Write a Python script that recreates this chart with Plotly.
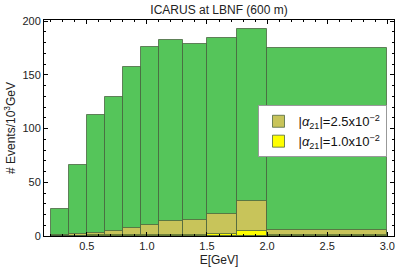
import plotly.graph_objects as go

# Data
bin_edges = [0.2, 0.35, 0.5, 0.65, 0.8, 0.95, 1.1, 1.3, 1.5, 1.75, 2.0, 3.0]
events_total = [25, 66, 113, 129, 157, 176, 182, 178.5, 184, 192.5, 174.5]
events_a25 = [0.5, 2, 3, 5, 7, 10, 14, 15, 20.5, 33, 6]
events_a10 = [0.3, 0.4, 0.5, 0.6, 0.7, 0.8, 1.2, 1.3, 2.2, 4.5, 1.0]

series_names = ["|<i>α</i><sub>21</sub>|=2.5x10<sup>−2</sup>",
                "|<i>α</i><sub>21</sub>|=1.0x10<sup>−2</sup>"]
x_tickvals = [0.5, 1.0, 1.5, 2.0, 2.5, 3.0]
x_ticktext = ["0.5", "1.0", "1.5", "2.0", "2.5", "3.0"]
y_tickvals = [0, 50, 100, 150, 200]

GREEN, OLIVE, YELLOW = "#55C55A", "#C8C45A", "#FFFF00"

centers = [(a + b) / 2 for a, b in zip(bin_edges[:-1], bin_edges[1:])]
widths = [b - a for a, b in zip(bin_edges[:-1], bin_edges[1:])]

edge = dict(color="rgba(70,95,60,0.75)", width=1)

fig = go.Figure()
fig.add_trace(go.Bar(x=centers, y=events_total, width=widths, marker=dict(color=GREEN, line=edge),
                     showlegend=False, name="total"))
fig.add_trace(go.Bar(x=centers, y=events_a25, width=widths, marker=dict(color=OLIVE, line=edge),
                     name=series_names[0]))
fig.add_trace(go.Bar(x=centers, y=events_a10, width=widths, marker=dict(color=YELLOW, line=edge),
                     name=series_names[1]))

axis_common = dict(showline=True, linecolor="black", linewidth=1, mirror="allticks",
                   ticks="inside", ticklen=4, tickcolor="black", showgrid=False, zeroline=False,
                   tickfont=dict(size=11, color="#222"))

fig.update_layout(
    width=415, height=275,
    margin=dict(l=44, r=21, t=20, b=39, autoexpand=False),
    barmode="overlay", bargap=0,
    paper_bgcolor="white", plot_bgcolor="white",
    font=dict(family="Liberation Sans, Arial, sans-serif", size=11, color="#222"),
    title=dict(text="ICARUS at LBNF (600 m)", x=(44 + 394) / 2 / 415, xanchor="center",
               y=1 - 10 / 275, yanchor="middle", font=dict(size=12)),
    xaxis=dict(range=[0.144, 3.056], tickvals=x_tickvals, ticktext=x_ticktext,
               minor=dict(ticks="inside", dtick=0.1, tick0=0, ticklen=2, tickcolor="black"),
               title=dict(text="E[GeV]", standoff=4, font=dict(size=12)), **axis_common),
    yaxis=dict(range=[0, 201], tickvals=y_tickvals,
               minor=dict(ticks="inside", dtick=10, tick0=0, ticklen=2, tickcolor="black"),
               title=dict(text="# Events/10<sup>3</sup>GeV", standoff=4, font=dict(size=12)), **axis_common),
    legend=dict(x=0.61, y=0.605, xanchor="left", yanchor="top", bgcolor="white",
                bordercolor="#999", borderwidth=1, font=dict(size=13, color="#111"),
                itemwidth=30, tracegroupgap=0),
)

fig.write_html("out.html", config={"displayModeBar": False},
               post_script="document.body.style.margin='0';document.body.style.padding='0';")
